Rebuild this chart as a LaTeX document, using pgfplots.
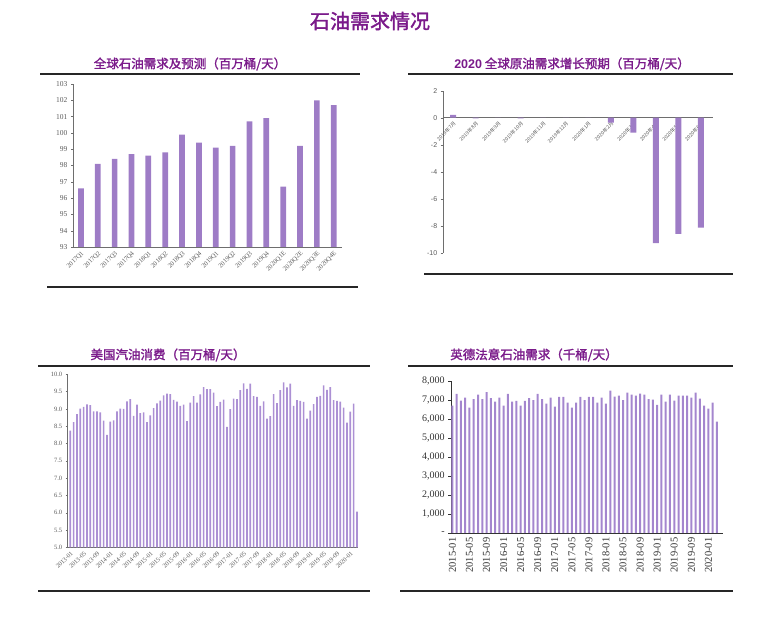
\documentclass[border=0pt]{standalone}
\usepackage{fontspec}
\usepackage{pgfplots}
\usepackage{pgfplotstable}
\pgfplotsset{compat=1.18}
\setmainfont{Liberation Serif}
\setsansfont{Liberation Sans}
\newfontfamily\cjk{Noto Sans CJK SC}
\newfontfamily\cjkb[FakeBold=1.8]{Noto Sans CJK SC}
\definecolor{ttl}{RGB}{122,26,138}
\definecolor{barA}{RGB}{158,124,198}
\definecolor{barB}{RGB}{172,144,212}
\definecolor{barC}{RGB}{164,134,206}
\definecolor{tkl}{RGB}{90,90,90}
\definecolor{axl}{RGB}{110,110,110}

\pgfplotstableread[row sep=\\]{v\\96.6\\98.1\\98.4\\98.7\\98.6\\98.8\\99.9\\99.4\\99.1\\99.2\\100.7\\100.9\\96.7\\99.2\\102.0\\101.7\\}\globaldemand
\pgfplotstableread[row sep=\\]{v\\0.2\\-0.05\\0\\-0.05\\0\\0\\0\\-0.37\\-1.1\\-9.3\\-8.6\\-8.15\\}\growth
\pgfplotstableread[row sep=\\]{v\\8.37\\8.62\\8.85\\9.01\\9.06\\9.13\\9.11\\8.93\\8.93\\8.90\\8.66\\8.25\\8.63\\8.67\\8.93\\9.01\\9.00\\9.22\\9.28\\8.80\\9.12\\8.88\\8.90\\8.62\\8.81\\9.02\\9.16\\9.24\\9.39\\9.44\\9.43\\9.26\\9.21\\9.09\\9.12\\8.65\\9.18\\9.37\\9.18\\9.42\\9.63\\9.57\\9.57\\9.47\\9.08\\9.20\\9.27\\8.48\\8.99\\9.30\\9.28\\9.54\\9.74\\9.58\\9.73\\9.37\\9.35\\9.09\\9.22\\8.72\\8.79\\9.43\\9.17\\9.54\\9.77\\9.62\\9.73\\9.09\\9.25\\9.23\\9.20\\8.72\\8.95\\9.14\\9.35\\9.38\\9.68\\9.55\\9.63\\9.25\\9.23\\9.21\\9.04\\8.60\\8.92\\9.15\\6.03\\}\usgas
\pgfplotstableread[row sep=\\]{v\\6700\\7320\\6970\\7120\\6600\\7050\\7280\\7050\\7420\\7100\\6910\\7120\\6700\\7320\\6910\\6950\\6700\\6950\\7100\\7000\\7320\\7050\\6810\\7120\\6650\\7160\\7160\\6860\\6600\\6860\\7160\\7000\\7160\\7160\\6860\\7120\\6810\\7490\\7180\\7230\\7000\\7390\\7280\\7230\\7330\\7280\\7050\\7020\\6750\\7280\\6910\\7280\\6970\\7230\\7230\\7230\\7120\\7390\\7070\\6700\\6540\\6860\\5860\\}\europe

\begin{document}
\begin{tikzpicture}
\path[use as bounding box] (0pt,0pt) rectangle (768pt,623pt);
% main title
\node[text=ttl,font={\cjkb\fontsize{20}{22}\selectfont}] at (370pt,602pt) {石油需求情况};
% panel titles
\node[text=ttl,font={\cjkb\fontsize{12.5}{14}\selectfont}] at (190pt,559pt) {全球石油需求及预测（百万桶/天）};
\node[text=ttl,font={\cjkb\fontsize{12.5}{14}\selectfont}] at (572pt,559pt) {{\sffamily\bfseries 2020} 全球原油需求增长预期（百万桶/天）};
\node[text=ttl,font={\cjkb\fontsize{12.5}{14}\selectfont}] at (168pt,268pt) {美国汽油消费（百万桶/天）};
\node[text=ttl,font={\cjkb\fontsize{12.5}{14}\selectfont}] at (534pt,268pt) {英德法意石油需求（千桶/天）};
% separator lines
\draw[line width=1.3pt,black!85] (40pt,549pt) -- (360pt,549pt);
\draw[line width=1.3pt,black!85] (47pt,336pt) -- (358pt,336pt);
\draw[line width=1.3pt,black!85] (408pt,549pt) -- (733pt,549pt);
\draw[line width=1.3pt,black!85] (424pt,349pt) -- (733pt,349pt);
\draw[line width=1.3pt,black!85] (38pt,257pt) -- (370pt,257pt);
\draw[line width=1.3pt,black!85] (38pt,32pt) -- (370pt,32pt);
\draw[line width=1.3pt,black!85] (408pt,257pt) -- (733pt,257pt);
\draw[line width=1.3pt,black!85] (400pt,32pt) -- (733pt,32pt);

% Panel 1
\begin{axis}[at={(73pt,376pt)},anchor=south west,scale only axis,width=269pt,height=163pt,
  xmin=-0.47,xmax=15.49,ymin=93,ymax=103,ytick={93,94,...,103},
  axis x line*=bottom,axis y line*=left,axis line style={axl,-},
  xtick={0,...,15},xticklabels={2017Q1,2017Q2,2017Q3,2017Q4,2018Q1,2018Q2,2018Q3,2018Q4,2019Q1,2019Q2,2019Q3,2019Q4,2020Q1E,2020Q2E,2020Q3E,2020Q4E},
  xtick style={draw=none},ytick style={axl},tick align=outside,major tick length=2pt,
  xticklabel style={rotate=45,anchor=north east,font=\fontsize{6.5}{7}\selectfont,text=tkl,inner sep=1pt},
  yticklabel style={font=\fontsize{7.5}{8}\selectfont,text=tkl},
  /pgf/number format/assume math mode=true]
\addplot[ybar,bar width=5.7pt,fill=barA,draw=none] table[x expr=\coordindex,y=v]{\globaldemand};
\end{axis}

% Panel 2
\begin{axis}[at={(442.7pt,370.3pt)},anchor=south west,scale only axis,width=270pt,height=162pt,
  xmin=-0.46,xmax=11.52,ymin=-10,ymax=2,ytick={-10,-8,...,2},
  axis x line=middle,axis y line=left,axis line style={axl,-},
  xtick={0,...,11},xticklabels={2019年7月,2019年8月,2019年9月,2019年10月,2019年11月,2019年12月,2020年1月,2020年2月,2020年3月,2020年4月,2020年5月,2020年6月},
  xtick style={draw=none},ytick style={axl},tick align=outside,major tick length=2pt,
  xticklabel style={rotate=45,anchor=north east,font={\cjk\fontsize{5}{5}\selectfont},text=tkl,inner sep=1pt},
  yticklabel style={font={\sffamily\fontsize{7}{8}\selectfont},text=tkl},
  /pgf/number format/assume math mode=true]
\addplot[ybar,bar width=6pt,fill=barA,draw=none] table[x expr=\coordindex,y=v]{\growth};
\end{axis}

% Panel 3
\begin{axis}[at={(67.7pt,75.7pt)},anchor=south west,scale only axis,width=290.6pt,height=173pt,
  xmin=-0.78,xmax=86.4,ymin=5,ymax=10,ytick={5,5.5,...,10},
  axis x line*=bottom,axis y line*=left,axis line style={axl,-},
  xtick={0,4,...,84},xticklabels={2013-01,2013-05,2013-09,2014-01,2014-05,2014-09,2015-01,2015-05,2015-09,2016-01,2016-05,2016-09,2017-01,2017-05,2017-09,2018-01,2018-05,2018-09,2019-01,2019-05,2019-09,2020-01},
  xtick style={draw=none},ytick style={axl},tick align=outside,major tick length=2pt,
  xticklabel style={rotate=45,anchor=north east,font=\fontsize{6.3}{6.5}\selectfont,text=tkl,inner sep=1pt},
  yticklabel style={font=\fontsize{6.5}{7}\selectfont,text=tkl,/pgf/number format/.cd,fixed,fixed zerofill,precision=1},
  /pgf/number format/assume math mode=true]
\addplot[ybar,bar width=1.6pt,fill=barB,draw=none] table[x expr=\coordindex,y=v]{\usgas};
\end{axis}

% Panel 4
\begin{axis}[at={(450.7pt,90pt)},anchor=south west,scale only axis,width=272.6pt,height=152pt,
  xmin=-0.4,xmax=63.5,ymin=0,ymax=8000,ytick={0,1000,...,8000},
  yticklabels={-,{1,000},{2,000},{3,000},{4,000},{5,000},{6,000},{7,000},{8,000}},
  axis x line*=bottom,axis y line*=left,axis line style={black!80,-},
  xtick={0,4,...,60},xticklabels={2015-01,2015-05,2015-09,2016-01,2016-05,2016-09,2017-01,2017-05,2017-09,2018-01,2018-05,2018-09,2019-01,2019-05,2019-09,2020-01},
  xtick style={draw=none},ytick style={black!80},tick align=outside,major tick length=2.5pt,
  xticklabel style={rotate=90,anchor=east,font=\fontsize{10.5}{11}\selectfont,text=black!80,inner sep=2pt},
  yticklabel style={font=\fontsize{10}{11}\selectfont,text=black!80},
  /pgf/number format/assume math mode=true]
\addplot[ybar,bar width=2pt,fill=barC,draw=none] table[x expr=\coordindex,y=v]{\europe};
\end{axis}
\end{tikzpicture}
\end{document}
